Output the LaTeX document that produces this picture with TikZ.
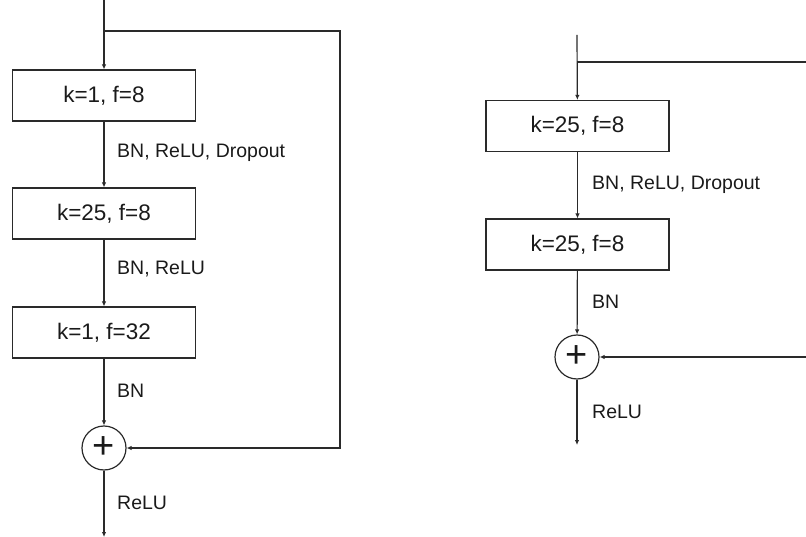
\documentclass[tikz,border=0pt]{standalone}
\usepackage{fontspec}
\setmainfont{Liberation Sans}
\usepackage{tikz}
\usetikzlibrary{arrows.meta}
\definecolor{netline}{HTML}{2A2A2A}
\definecolor{nettext}{HTML}{1A1A1A}
\tikzset{
  convbox/.style={
    draw=netline,
    line width=1.2pt,
    minimum width=183pt,
    minimum height=51pt,
    inner sep=0pt,
    text=nettext,
    font=\fontsize{22.5}{26}\selectfont
  },
  addnode/.style={
    circle,
    draw=netline,
    line width=1.2pt,
    minimum size=44pt,
    inner sep=0pt,
    text=nettext,
    font=\fontsize{38}{38}\selectfont
  },
  oplabel/.style={
    anchor=base west,
    inner sep=0pt,
    text=nettext,
    font=\fontsize{19.5}{23}\selectfont
  },
  arrow/.style={
    -{Latex[length=5pt,width=4.5pt]},
    line width=1.2pt,
    draw=netline
  },
  wire/.style={
    line width=1.2pt,
    draw=netline
  }
}
\begin{document}
\begin{tikzpicture}[x=1pt,y=-1pt]
\useasboundingbox (0,0) rectangle (806,537);
% bottleneck block
\coordinate (inA) at (104,0);
\coordinate (splitA) at (104,31);
\coordinate (skipA1) at (340,31);
\coordinate (skipA2) at (340,448);
\coordinate (outA) at (104,537);
\node[convbox] (convA1) at (104,95.5) {k=1, f=8};
\node[convbox] (convA2) at (104,213.5) {k=25, f=8};
\node[convbox] (convA3) at (104,332.5) {k=1, f=32};
\node[addnode] (addA) at (104,448) {+};
\node[oplabel] (labA1) at (117,158) {BN, ReLU, Dropout};
\node[oplabel] (labA2) at (117,275) {BN, ReLU};
\node[oplabel] (labA3) at (117,397) {BN};
\node[oplabel] (labA4) at (117,509) {ReLU};
\draw[arrow] (inA) -- (convA1);
\draw[arrow] (convA1) -- (convA2);
\draw[arrow] (convA2) -- (convA3);
\draw[arrow] (convA3) -- (addA);
\draw[arrow] (addA) -- (outA);
\draw[arrow] (splitA) -- (skipA1) -- (skipA2) -- (addA);
% basic block
\coordinate (inB) at (577,35);
\coordinate (splitB) at (577,62);
\coordinate (skipB1) at (807,62);
\coordinate (skipB2) at (807,357);
\coordinate (outB) at (577,445);
\node[convbox] (convB1) at (577.5,126) {k=25, f=8};
\node[convbox] (convB2) at (577.5,244.5) {k=25, f=8};
\node[addnode] (addB) at (577,357) {+};
\node[oplabel] (labB1) at (592,190) {BN, ReLU, Dropout};
\node[oplabel] (labB2) at (592,309) {BN};
\node[oplabel] (labB3) at (592,418) {ReLU};
\draw[arrow] (inB) -- (convB1);
\draw[arrow] (convB1) -- (convB2);
\draw[arrow] (convB2) -- (addB);
\draw[arrow] (addB) -- (outB);
\draw[wire] (splitB) -- (skipB1);
\draw[arrow] (skipB2) -- (addB);
\end{tikzpicture}
\end{document}
